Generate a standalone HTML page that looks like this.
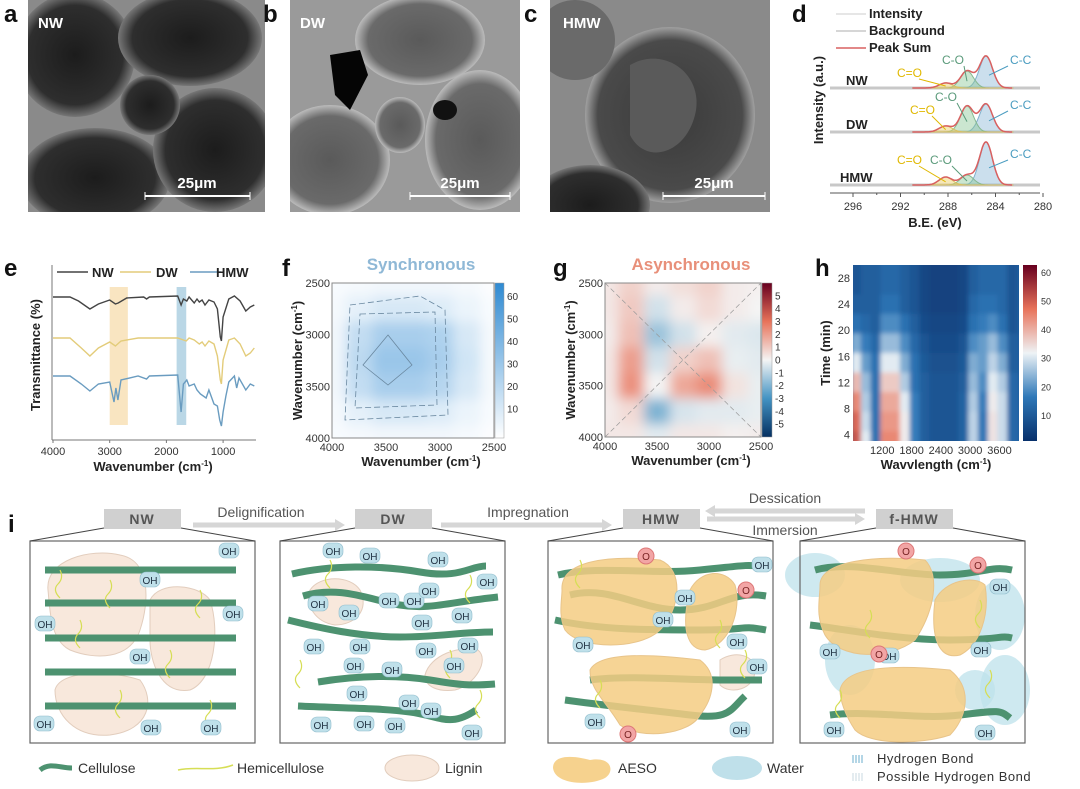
<!DOCTYPE html>
<html><head><meta charset="utf-8"><style>
html,body{margin:0;padding:0;background:#fff;}
svg{display:block;font-family:"Liberation Sans",Arial,sans-serif;}
.pl{font-weight:bold;font-size:24px;fill:#111;}
.tk{font-size:11px;fill:#333;}
.ax{font-size:13px;font-weight:bold;fill:#222;}
</style></head><body>
<svg id="s" width="1080" height="789" viewBox="0 0 1080 789" xmlns="http://www.w3.org/2000/svg">
<defs>
<filter id="bl4" x="-20%" y="-20%" width="140%" height="140%"><feGaussianBlur stdDeviation="6"/></filter>
<filter id="bl2"><feGaussianBlur stdDeviation="2.5"/></filter>
<clipPath id="cf"><rect x="332" y="283" width="162" height="155"/></clipPath>
<clipPath id="cg"><rect x="605" y="283" width="156" height="154"/></clipPath>
<clipPath id="ch"><rect x="853" y="265" width="166" height="176"/></clipPath>
<clipPath id="ca"><rect x="28" y="0" width="237" height="212"/></clipPath>
<clipPath id="cb"><rect x="290" y="0" width="230" height="212"/></clipPath>
<clipPath id="cc"><rect x="550" y="0" width="220" height="212"/></clipPath>
<radialGradient id="cell" cx="50%" cy="50%" r="50%"><stop offset="0" stop-color="#1c1c1c"/><stop offset="0.8" stop-color="#2e2e2e"/><stop offset="1" stop-color="#777"/></radialGradient>
<radialGradient id="cell2" cx="50%" cy="50%" r="50%"><stop offset="0" stop-color="#5a5a5a"/><stop offset="0.8" stop-color="#6a6a6a"/><stop offset="1" stop-color="#bbb"/></radialGradient>
<radialGradient id="cell3" cx="50%" cy="50%" r="50%"><stop offset="0" stop-color="#3a3a3a"/><stop offset="0.85" stop-color="#4a4a4a"/><stop offset="1" stop-color="#a0a0a0"/></radialGradient>
<linearGradient id="gf" x1="0" y1="1" x2="0" y2="0"><stop offset="0" stop-color="#ffffff"/><stop offset="1" stop-color="#2f8ad2"/></linearGradient>
<linearGradient id="gg" x1="0" y1="1" x2="0" y2="0"><stop offset="0" stop-color="#053061"/><stop offset="0.25" stop-color="#4393c3"/><stop offset="0.5" stop-color="#f4f4f4"/><stop offset="0.75" stop-color="#e8735a"/><stop offset="1" stop-color="#67001f"/></linearGradient>
<linearGradient id="gh" x1="0" y1="1" x2="0" y2="0"><stop offset="0" stop-color="#08306b"/><stop offset="0.25" stop-color="#2f78b8"/><stop offset="0.5" stop-color="#eef3f6"/><stop offset="0.75" stop-color="#e8735a"/><stop offset="1" stop-color="#67001f"/></linearGradient>
</defs>

<!-- SEM panels -->
<g clip-path="url(#ca)">
<rect x="28" y="0" width="237" height="212" fill="#8a8a8a"/>
<ellipse cx="75" cy="55" rx="60" ry="62" fill="url(#cell)"/>
<ellipse cx="190" cy="38" rx="72" ry="48" fill="url(#cell)"/>
<ellipse cx="95" cy="178" rx="75" ry="50" fill="url(#cell)"/>
<ellipse cx="215" cy="150" rx="62" ry="62" fill="url(#cell)"/>
<ellipse cx="150" cy="105" rx="30" ry="30" fill="url(#cell)"/>
</g>
<g clip-path="url(#cb)">
<rect x="290" y="0" width="230" height="212" fill="#9a9a9a"/>
<ellipse cx="330" cy="160" rx="60" ry="55" fill="url(#cell2)"/>
<ellipse cx="420" cy="40" rx="65" ry="45" fill="url(#cell2)"/>
<ellipse cx="480" cy="140" rx="55" ry="70" fill="url(#cell2)"/>
<ellipse cx="400" cy="125" rx="25" ry="28" fill="url(#cell2)"/>
<polygon points="330,55 360,50 368,75 350,110 335,95" fill="#050505"/>
<ellipse cx="445" cy="110" rx="12" ry="10" fill="#111"/>
</g>
<g clip-path="url(#cc)">
<rect x="550" y="0" width="220" height="212" fill="#8a8a8a"/>
<ellipse cx="670" cy="115" rx="85" ry="88" fill="url(#cell3)"/>
<ellipse cx="590" cy="205" rx="60" ry="40" fill="url(#cell)"/>
<ellipse cx="575" cy="40" rx="40" ry="40" fill="#6a6a6a"/>
<path d="M630,65 C665,45 705,75 695,115 C685,155 645,165 630,135 Z" fill="#5a5a5a"/>
</g>
<text class="pl" x="4" y="22">a</text>
<text class="pl" x="263" y="22">b</text>
<text class="pl" x="524" y="22">c</text>
<text class="pl" x="792" y="22">d</text>
<text x="38" y="28" font-size="15" font-weight="bold" fill="#fff">NW</text>
<text x="300" y="28" font-size="15" font-weight="bold" fill="#fff">DW</text>
<text x="563" y="28" font-size="15" font-weight="bold" fill="#fff">HMW</text>
<g fill="#fff" stroke="#fff"><line x1="145" y1="196" x2="250" y2="196" stroke-width="2"/><line x1="145" y1="192" x2="145" y2="200"/><line x1="250" y1="192" x2="250" y2="200"/><text x="197" y="188" stroke="none" font-size="15" font-weight="bold" text-anchor="middle">25μm</text></g>
<g fill="#fff" stroke="#fff"><line x1="410" y1="196" x2="510" y2="196" stroke-width="2"/><line x1="410" y1="192" x2="410" y2="200"/><line x1="510" y1="192" x2="510" y2="200"/><text x="460" y="188" stroke="none" font-size="15" font-weight="bold" text-anchor="middle">25μm</text></g>
<g fill="#fff" stroke="#fff"><line x1="663" y1="196" x2="765" y2="196" stroke-width="2"/><line x1="663" y1="192" x2="663" y2="200"/><line x1="765" y1="192" x2="765" y2="200"/><text x="714" y="188" stroke="none" font-size="15" font-weight="bold" text-anchor="middle">25μm</text></g>

<g id="xps"></g>
<g id="ftir"></g>
<g id="sync"></g>
<g id="async"></g>
<g id="heat"></g>
<text class="pl" x="4" y="276">e</text>
<text class="pl" x="282" y="276">f</text>
<text class="pl" x="553" y="276">g</text>
<text class="pl" x="815" y="276">h</text>

<g id="sch"></g>
<text class="pl" x="8" y="532">i</text>
</svg>
<script>
var NS="http://www.w3.org/2000/svg";
function mk(p,t,a,txt){var e=document.createElementNS(NS,t);for(var k in a)e.setAttribute(k,a[k]);if(txt!==undefined)e.textContent=txt;p.appendChild(e);return e;}

/* ---------- XPS data ---------- */
var xpsSamples=["NW","DW","HMW"];
var xpsPeakPos=[284.8,286.4,288.2];
var xpsPeakNames=["C-C","C-O","C=O"];
var xpsHeightsNW=[32,17,5];
var xpsHeightsDW=[28,26,6];
var xpsHeightsHMW=[43,10,8];
var xpsTicks=[296,292,288,284,280];
/* ---------- FTIR data: [wavenumber, absorption depth] ---------- */
var ftirNW=[[4000,0],[3700,0],[3550,4],[3350,12],[3200,7],[3000,3],[2900,7],[2850,6],[2700,1],[2400,0],[2350,2],[2300,0],[1800,-1],[1740,8],[1700,2],[1640,4],[1600,0],[1510,6],[1460,2],[1420,5],[1370,3],[1320,8],[1250,3],[1160,5],[1100,12],[1050,40],[1030,44],[1000,20],[900,2],[800,-1],[700,4],[600,14],[520,10],[450,8]];
var ftirDW=[[4000,0],[3700,0],[3500,10],[3350,18],[3200,10],[3000,4],[2900,8],[2800,3],[2500,0],[1800,0],[1650,3],[1600,0],[1510,2],[1420,6],[1370,4],[1320,8],[1250,3],[1160,6],[1100,18],[1050,42],[1030,46],[1000,22],[900,2],[800,0],[700,6],[600,18],[520,15],[450,10]];
var ftirHMW=[[4000,0],[3700,0],[3500,8],[3350,15],[3200,8],[3000,6],[2925,26],[2890,12],[2855,24],[2800,4],[2500,0],[2350,3],[2300,0],[1800,-1],[1740,36],[1700,8],[1640,4],[1600,10],[1510,8],[1460,14],[1400,18],[1300,22],[1250,14],[1160,28],[1100,30],[1060,44],[1030,50],[1000,36],[950,20],[900,6],[800,0],[760,12],[720,2],[600,14],[520,8],[450,10]];
var ftirTicks=[4000,3000,2000,1000];
/* ---------- 2D correlation data ---------- */
var corrAxis=[4000,3750,3500,3250,3000,2750,2500];
var corrRows=[2500,2750,3000,3250,3500,3750,4000];
var syncVals=[[2,3,4,4,4,3,1],[3,8,12,12,10,6,2],[4,18,26,26,24,12,3],[4,20,30,30,26,14,3],[4,18,26,26,22,12,3],[3,8,12,12,10,6,2],[2,3,4,4,4,3,1]];
var asyncVals=[[0.3,0.8,0.2,0.5,0.8,0.2,0.1],[0.3,1.0,-0.6,0.2,0.6,0.2,0],[0.2,1.2,-1.5,-0.6,0.1,-0.3,-0.4],[0.3,2.0,-0.6,0.8,1.2,-0.2,-0.3],[0.3,2.3,0,1.8,2.4,0.4,-0.2],[0.2,0.6,-2.0,-0.5,-0.3,-0.3,-0.2],[0.3,0.3,-0.3,0.3,0.3,0.1,0.2]];
var corrTicks=[4000,3500,3000,2500];
var syncBarTicks=[10,20,30,40,50,60];
var asyncBarTicks=[5,4,3,2,1,0,-1,-2,-3,-4,-5];
/* ---------- time heatmap ---------- */
var heatWn=[600,800,1000,1200,1400,1600,1800,2000,2200,2400,2600,2800,3000,3200,3400,3600,3800];
var heatTimes=[30,27,24,21,18,15,12,9,6,3];
var heatVals=[
[8,10,10,12,12,10,8,5,4,4,4,5,10,12,12,12,8],
[8,10,10,12,12,10,8,5,4,4,4,5,10,12,12,12,8],
[10,10,10,14,14,10,8,5,4,4,4,5,12,14,14,12,8],
[14,12,10,18,18,14,10,6,5,5,5,6,14,16,18,14,8],
[22,16,12,24,24,18,12,8,6,6,6,8,18,20,24,18,10],
[30,20,14,30,30,22,14,9,7,7,7,9,22,20,27,22,10],
[38,24,14,36,36,26,14,10,8,8,8,10,24,18,30,26,12],
[44,26,14,40,40,30,16,10,8,8,8,11,26,16,32,28,12],
[48,28,14,42,42,32,16,10,8,8,8,11,27,15,33,28,12],
[50,30,14,44,44,32,16,10,8,8,8,11,27,15,33,28,12]];
var heatXTicks=[1200,1800,2400,3000,3600];
var heatYTicks=[28,24,20,16,12,8,4];
var heatBarTicks=[10,20,30,40,50,60];

function lerpC(stops,t){t=Math.max(0,Math.min(1,t));for(var i=1;i<stops.length;i++){if(t<=stops[i][0]){var a=stops[i-1],b=stops[i],f=(t-a[0])/(b[0]-a[0]);var c=[0,1,2].map(function(k){return Math.round(a[1][k]+(b[1][k]-a[1][k])*f);});return "rgb("+c.join(",")+")";}}return "rgb("+stops[stops.length-1][1].join(",")+")";}
var rdbu=[[0,[5,48,97]],[0.25,[67,147,195]],[0.5,[244,244,244]],[0.75,[232,115,90]],[1,[103,0,31]]];
var rdbuH=[[0,[8,48,107]],[0.25,[47,120,184]],[0.5,[238,243,246]],[0.75,[232,115,90]],[1,[103,0,31]]];
var blues=[[0,[255,255,255]],[1,[47,138,210]]];

/* ---------- XPS draw ---------- */
(function(){
var g=document.getElementById("xps");
function xs(e){return 853+(296-e)*11.875;}
var base=[88,132,185];var heights=[xpsHeightsNW,xpsHeightsDW,xpsHeightsHMW];
var compCol=["rgba(140,185,215,0.45)","rgba(140,200,150,0.45)","rgba(235,205,100,0.45)"];
var compStroke=["#7fb0cc","#86b890","#d9c060"];
var labCol=["#4a9cc0","#5a9a7a","#e0b800"];
// label anchor positions [sample][peak] -> [x,y]
var labPos=[[[1010,64],[942,64],[897,77]],[[1010,109],[935,101],[910,114]],[[1010,158],[930,164],[897,164]]];
var sig=0.55;
for(var s=0;s<3;s++){
  var b=base[s];
  var bgl=mk(g,"line",{x1:830,y1:b,x2:1040,y2:b,stroke:"#c8c8c8","stroke-width":3});
  
  
  for(var p=0;p<3;p++){
    var d="M";for(var e=291;e>=282.5;e-=0.1){var v=heights[s][p]*Math.exp(-Math.pow((e-xpsPeakPos[p])/sig,2)/2);d+=xs(e).toFixed(1)+","+(b-v).toFixed(1)+" L";}
    d=d.slice(0,-2);
    var pe=mk(g,"path",{d:d+" L"+xs(282.5)+","+b+" L"+xs(291)+","+b+"Z",fill:compCol[p],stroke:compStroke[p],"stroke-width":1});
    
    
  }
  var d2="M";for(var e=291;e>=282.5;e-=0.1){var v=0;for(var p=0;p<3;p++)v+=heights[s][p]*Math.exp(-Math.pow((e-xpsPeakPos[p])/sig,2)/2);d2+=xs(e).toFixed(1)+","+(b-v).toFixed(1)+" L";}
  var ps=mk(g,"path",{d:d2.slice(0,-2),fill:"none",stroke:"#d86060","stroke-width":1.5});
  
  
  var sl=mk(g,"text",{x:xpsSamples[s]=="HMW"?840:846,y:b-3,"font-size":13,"font-weight":"bold",fill:"#222"},xpsSamples[s]);
  
  
  for(var p=0;p<3;p++){
    var px=xs(xpsPeakPos[p]),py=b-heights[s][p]*0.4;
    var lp=labPos[s][p];
    var lx2=p==0?lp[0]-2:lp[0]+22, ly2=lp[1]+2;
    mk(g,"line",{x1:px+(p==0?3:0),y1:py,x2:lx2,y2:ly2,stroke:labCol[p],"stroke-width":1});
    var tl=mk(g,"text",{x:lp[0],y:lp[1],"font-size":12,fill:labCol[p]},xpsPeakNames[p]);
    
    
  }
}
mk(g,"line",{x1:830,y1:193,x2:1040,y2:193,stroke:"#555"});
xpsTicks.forEach(function(t){var x=xs(t);mk(g,"line",{x1:x,y1:193,x2:x,y2:197,stroke:"#555"});
  var tt=mk(g,"text",{x:x,y:210,"text-anchor":"middle",class:"tk"},t);
  
  });
[294,290,286,282].forEach(function(t){mk(g,"line",{x1:xs(t),y1:193,x2:xs(t),y2:195,stroke:"#555"});});
var xt=mk(g,"text",{x:935,y:227,"text-anchor":"middle",class:"ax"},"B.E. (eV)");


var yt=mk(g,"text",{x:0,y:0,"text-anchor":"middle",class:"ax",transform:"translate(823,100) rotate(-90)"},"Intensity (a.u.)");


var leg=[["Intensity","#ddd"],["Background","#c8c8c8"],["Peak Sum","#d86060"]];
leg.forEach(function(l,i){var y=18+i*17;mk(g,"line",{x1:836,y1:y-4,x2:866,y2:y-4,stroke:l[1],"stroke-width":1.5});
 var lt=mk(g,"text",{x:869,y:y,"font-size":13,"font-weight":"bold",fill:"#222"},l[0]);
 
 });
})();

/* ---------- FTIR draw ---------- */
(function(){
var g=document.getElementById("ftir");
function xs(w){return 53+(4000-w)*0.0567;}
var hl1=mk(g,"rect",{x:xs(3000),y:287,width:xs(2680)-xs(3000),height:138,fill:"#f7dfb2",opacity:0.8});


var hl2=mk(g,"rect",{x:xs(1820),y:287,width:xs(1650)-xs(1820),height:138,fill:"#a9cde0",opacity:0.8});


var series=[[ftirNW,297,"#444","NW"],[ftirDW,338,"#e3cc7a","DW"],[ftirHMW,376,"#6a9cc0","HMW"]];
series.forEach(function(s){
  var d=s[0].map(function(p,i){return (i?"L":"M")+xs(p[0]).toFixed(1)+","+(s[1]+p[1]).toFixed(1);}).join(" ");
  var pth=mk(g,"path",{d:d,fill:"none",stroke:s[2],"stroke-width":1.4});
  
  
});
mk(g,"line",{x1:52,y1:265,x2:52,y2:440,stroke:"#777"});
mk(g,"line",{x1:52,y1:440,x2:256,y2:440,stroke:"#777"});
ftirTicks.forEach(function(t){mk(g,"line",{x1:xs(t),y1:440,x2:xs(t),y2:443,stroke:"#777"});
 var tt=mk(g,"text",{x:xs(t),y:455,"text-anchor":"middle",class:"tk"},t);
 
 });
var xt=mk(g,"text",{x:153,y:471,"text-anchor":"middle",class:"ax"});xt.innerHTML='Wavenumber (cm<tspan dy="-5" font-size="8">-1</tspan><tspan dy="5">)</tspan>';


var yt=mk(g,"text",{x:0,y:0,"text-anchor":"middle",class:"ax",transform:"translate(40,355) rotate(-90)"},"Transmittance (%)");


[["NW","#444",57,92],["DW","#e3cc7a",120,156],["HMW","#6a9cc0",190,216]].forEach(function(l){
 mk(g,"line",{x1:l[2],y1:272,x2:l[2]+31,y2:272,stroke:l[1],"stroke-width":1.5});
 var lt=mk(g,"text",{x:l[3],y:277,"font-size":13,"font-weight":"bold",fill:"#222"},l[0]);
 
 });
})();

/* ---------- correlation maps ---------- */
function corrMap(id,vals,x0,y0,w,h,col,vmin,vmax,clip,bar,barTicks,title,tcol,cbGrad){
 var g=document.getElementById(id);
 mk(g,"rect",{x:x0,y:y0,width:w,height:h,fill:col(0)});
 var gi=mk(g,"g",{"clip-path":"url(#"+clip+")"});var gb=mk(gi,"g",{filter:"url(#bl4)"});
 function xs(wn){return x0+(4000-wn)/1500*w;} function ys(wn){return y0+(wn-2500)/1500*h;}
 var cw=w/6,ch=h/6;
 corrRows.forEach(function(r,i){corrAxis.forEach(function(c,j){
   var cell=mk(gb,"rect",{x:xs(c)-cw/2,y:ys(r)-ch/2,width:cw+1,height:ch+1,fill:col(vals[i][j])});
   
   
 });});
 mk(g,"rect",{x:x0,y:y0,width:w,height:h,fill:"none",stroke:"#888"});
 corrTicks.forEach(function(t){
   var tx=mk(g,"text",{x:xs(t),y:y0+h+13,"text-anchor":"middle",class:"tk"},t);
   
   
   var ty=mk(g,"text",{x:x0-2,y:ys(t)+4,"text-anchor":"end",class:"tk"},t);
   
   
 });
 var xt=mk(g,"text",{x:x0+w/2+8,y:y0+h+28,"text-anchor":"middle",class:"ax"});xt.innerHTML='Wavenumber (cm<tspan dy="-5" font-size="8">-1</tspan><tspan dy="5">)</tspan>';
 
 
 var yt=mk(g,"text",{x:0,y:0,"text-anchor":"middle",class:"ax",transform:"translate("+(x0-30)+","+(y0+h/2)+") rotate(-90)"});yt.innerHTML='Wavenumber (cm<tspan dy="-5" font-size="8">-1</tspan><tspan dy="5">)</tspan>';
 
 
 var cb=mk(g,"rect",{x:bar[0],y:y0,width:bar[1],height:h,fill:"url(#"+cbGrad+")",stroke:"#999","stroke-width":0.5});
 
 
 barTicks.forEach(function(t){var y=y0+h-(t-vmin)/(vmax-vmin)*h;
   var bt=mk(g,"text",{x:bar[0]+bar[1]+3,y:y+3.5,"font-size":10,fill:"#333"},t);
   
   });
 var tt=mk(g,"text",{x:x0+w/2+8,y:270,"text-anchor":"middle","font-size":17,"font-weight":"bold",fill:tcol},title);
 
 
 return {g:g,xs:xs,ys:ys};
}
var F=corrMap("sync",syncVals,332,283,162,155,function(v){return lerpC(blues,v/62);},-3,66,"cf",[495,9],syncBarTicks,"Synchronous","#8fb8d6","gf");
mk(F.g,"path",{d:"M350,305 L420,296 L445,310 L448,415 L345,420 Z",fill:"none",stroke:"#6a88a0","stroke-dasharray":"6,3","stroke-width":0.8});
mk(F.g,"path",{d:"M360,314 L435,312 L437,405 L355,408 Z",fill:"none",stroke:"#6a88a0","stroke-dasharray":"6,3","stroke-width":0.8});
mk(F.g,"path",{d:"M388,335 L412,365 L388,385 L363,365 Z",fill:"none",stroke:"#6a88a0","stroke-width":0.8});
var G=corrMap("async",asyncVals,605,283,156,154,function(v){return lerpC(rdbu,(v+6)/12);},-6,6,"cg",[762,10],asyncBarTicks,"Asynchronous","#e8907a","gg");
mk(G.g,"path",{d:"M605,437 L761,283 M605,283 L761,437",fill:"none",stroke:"#999","stroke-dasharray":"5,3","stroke-width":0.7,"clip-path":"url(#cg)"});
(function(){
 var g=document.getElementById("heat");var x0=853,y0=265,w=166,h=176;
 function xs(wn){return x0+(wn-600)/3400*w;} function ys(t){return y0+(30-t)/27*h;}
 mk(g,"rect",{x:x0,y:y0,width:w,height:h,fill:"#1d5ea3"});
 var gi=mk(g,"g",{"clip-path":"url(#ch)"});var gb=mk(gi,"g",{filter:"url(#bl2)"});
 var cw=w/17,ch=h/9;
 heatTimes.forEach(function(t,i){heatWn.forEach(function(wn,j){
  var cell=mk(gb,"rect",{x:xs(wn)-cw*0.2,y:ys(t)-ch/2,width:cw+1,height:ch+1,fill:lerpC(rdbuH,heatVals[i][j]/62)});
  
  
 });});
 heatXTicks.forEach(function(t){var tx=mk(g,"text",{x:xs(t),y:y0+h+13,"text-anchor":"middle",class:"tk"},t);
  
  });
 heatYTicks.forEach(function(t){var ty=mk(g,"text",{x:x0-3,y:ys(t)+4,"text-anchor":"end",class:"tk"},t);
  
  });
 var xt=mk(g,"text",{x:x0+w/2,y:y0+h+28,"text-anchor":"middle",class:"ax"});xt.innerHTML='Wavvlength (cm<tspan dy="-5" font-size="8">-1</tspan><tspan dy="5">)</tspan>';
 
 
 var yt=mk(g,"text",{x:0,y:0,"text-anchor":"middle",class:"ax",transform:"translate(830,353) rotate(-90)"},"Time (min)");
 
 
 var cb=mk(g,"rect",{x:1023,y:y0,width:14,height:h,fill:"url(#gh)"});
 
 
 heatBarTicks.forEach(function(t){var y=444-t*2.86;var bt=mk(g,"text",{x:1041,y:y+3.5,"font-size":9,fill:"#333"},t);
  
  });
})();

/* ---------- schematic ---------- */
(function(){
var g=document.getElementById("sch");
function el(t,a,name,txt){var e=mk(g,t,a,txt);return e;}
var boxes=[[30,"NW",104],[280,"DW",355],[548,"HMW",623],[800,"f-HMW",876]];
var lig="#f8e8dc",ligS="#e2cdbd",aeso="rgba(245,205,130,0.85)",wat="rgba(190,225,235,0.75)";
el("path",{d:"M48,590 C45,560 90,548 120,555 C150,560 150,600 140,630 C130,660 95,660 70,650 C50,640 50,610 48,590Z",fill:lig,stroke:ligS},"lignin-blob");
el("path",{d:"M150,600 C160,580 200,585 210,600 C220,630 215,680 190,690 C160,695 150,660 150,640Z",fill:lig,stroke:ligS},"lignin-blob");
el("path",{d:"M55,690 C60,670 110,670 140,680 C155,700 150,730 110,735 C75,738 55,715 55,690Z",fill:lig,stroke:ligS},"lignin-blob");
el("path",{d:"M310,590 C320,575 350,575 360,590 C370,610 355,625 335,625 C315,622 305,605 310,590Z",fill:lig,stroke:ligS},"lignin-blob");
el("path",{d:"M425,675 C430,655 460,645 478,650 C490,660 475,685 455,690 C440,692 425,688 425,675Z",fill:lig,stroke:ligS},"lignin-blob");
el("path",{d:"M720,660 C735,650 755,655 755,670 C755,690 730,695 720,685Z",fill:lig,stroke:ligS},"lignin-blob");
[[815,575,30,22],[850,660,25,35],[1000,615,25,35],[1005,690,25,35],[975,690,20,20],[940,580,40,22]].forEach(function(w){el("ellipse",{cx:w[0],cy:w[1],rx:w[2],ry:w[3],fill:wat},"water-blob");});
var cel="#4d9270";
[570,603,638,672,706].forEach(function(y){el("rect",{x:45,y:y-3.5,width:191,height:7,fill:cel},"cellulose-fiber");});
["M292,574 C330,565 380,565 420,572 S470,566 486,566","M303,596 C340,585 370,600 400,605 S450,602 498,597","M288,620 C320,628 360,637 400,637 S460,632 493,632","M318,682 C360,675 400,675 430,680 S470,686 495,684","M298,706 C340,708 380,708 410,712 S450,728 476,710",
 "M558,575 C600,565 650,575 700,570 S740,565 766,566","M570,595 C610,585 640,610 680,610 S730,590 766,596","M555,620 C600,630 650,630 700,630 S740,625 766,630","M590,680 C630,675 680,680 720,680 S750,680 762,680","M565,700 C600,705 650,710 690,715 S730,710 745,696",
 "M815,570 C850,560 900,575 940,575 S990,565 1012,570","M810,625 C850,630 900,640 950,640 S1000,635 1012,638","M830,715 C870,710 920,720 960,715 S1000,710 1010,718"].forEach(function(d){el("path",{d:d,fill:"none",stroke:cel,"stroke-width":7},"cellulose-fiber");});
["M562,590 C560,560 610,555 660,560 C685,570 680,610 660,630 C640,650 580,650 565,630 C558,615 562,600 562,590Z","M690,590 C700,570 725,568 735,585 C742,610 730,645 705,650 C688,650 680,630 690,590Z","M590,670 C600,650 660,655 700,660 C720,675 712,700 700,715 C690,735 640,740 620,725 C605,700 590,690 590,670Z",
 "M820,585 C820,560 880,555 925,560 C940,575 935,610 915,640 C890,660 840,660 825,635 C815,615 820,600 820,585Z","M935,600 C945,580 975,575 985,585 C990,615 980,645 960,655 C940,660 930,640 935,600Z","M840,690 C845,665 900,665 950,670 C975,690 965,720 950,735 C920,745 870,745 855,730 C845,715 840,700 840,690Z"].forEach(function(d){el("path",{d:d,fill:aeso,stroke:"#e8c48a"},"aeso-blob");});
[[60,570],[110,580],[200,590],[80,620],[170,650],[120,690],[210,700],[330,560],[470,575],[300,660],[450,650],[480,690],[580,560],[720,620],[745,650],[600,680],[870,610],[980,600],[840,690],[990,670]].forEach(function(p){
 el("path",{d:"M"+p[0]+","+p[1]+" q4,8 -2,14 t2,14",fill:"none",stroke:"#d6de55","stroke-width":1.2},"hemicellulose-strand");});
boxes.forEach(function(b){
 el("rect",{x:b[0],y:541,width:225,height:202,fill:"none",stroke:"#666","stroke-width":1.2},"box-"+b[1].toLowerCase());
 el("path",{d:"M"+b[0]+",541 L"+b[2]+",528 M"+(b[2]+77)+",528 L"+(b[0]+225)+",541",stroke:"#444",fill:"none"},"tab-connector");
 el("rect",{x:b[2],y:509,width:77,height:20,fill:"#d0d0d0"},"tab-"+b[1].toLowerCase());
 el("text",{x:b[2]+38,y:524,"text-anchor":"middle","font-size":14,"font-weight":"bold",fill:"#555","letter-spacing":"1"},"tab-label",b[1]);
});
function arrow(x1,x2,y,name){var dir=x2>x1?1:-1;el("path",{d:"M"+x1+","+(y-2.5)+" L"+(x2-dir*10)+","+(y-2.5)+" L"+(x2-dir*10)+","+(y-6)+" L"+x2+","+y+" L"+(x2-dir*10)+","+(y+6)+" L"+(x2-dir*10)+","+(y+2.5)+" L"+x1+","+(y+2.5)+"Z",fill:"#d6d6d6"},name);}
arrow(193,345,525,"arrow-delignification");arrow(441,612,525,"arrow-impregnation");arrow(865,705,511,"arrow-dessication");arrow(707,865,519,"arrow-immersion");
el("text",{x:261,y:517,"text-anchor":"middle","font-size":14,fill:"#555"},"label-delignification","Delignification");
el("text",{x:528,y:517,"text-anchor":"middle","font-size":14,fill:"#555"},"label-impregnation","Impregnation");
el("text",{x:785,y:503,"text-anchor":"middle","font-size":14,fill:"#555"},"label-dessication","Dessication");
el("text",{x:785,y:535,"text-anchor":"middle","font-size":14,fill:"#555"},"label-immersion","Immersion");
[[229,551],[150,580],[233,614],[45,624],[140,657],[44,724],[151,728],[211,728],
 [333,551],[370,556],[438,560],[487,582],[318,604],[349,613],[389,601],[414,601],[429,591],[422,623],[462,616],[314,647],[360,647],[426,651],[468,646],[354,666],[392,670],[454,666],[357,694],[409,703],[431,711],[321,725],[364,724],[395,726],[472,733],
 [685,598],[663,620],[583,645],[737,642],[757,667],[762,565],[595,722],[740,730],
 [1000,587],[830,652],[889,656],[981,650],[834,730],[985,733]].forEach(function(p){
 el("rect",{x:p[0]-10,y:p[1]-8,width:20,height:15,rx:6,fill:"#bfe0ea",stroke:"#8fbccc","stroke-width":0.6},"oh-bubble");
 el("text",{x:p[0],y:p[1]+4,"text-anchor":"middle","font-size":10,fill:"#234"},"oh-label","OH");});
[[646,556],[746,590],[628,734],[906,551],[978,565],[879,654]].forEach(function(p){
 el("circle",{cx:p[0],cy:p[1],r:8,fill:"#f2a5a5",stroke:"#d77"},"o-group");
 el("text",{x:p[0],y:p[1]+4,"text-anchor":"middle","font-size":10,fill:"#722"},"o-label","O");});
el("path",{d:"M40,770 C50,762 60,768 72,768",fill:"none",stroke:cel,"stroke-width":5},"legend-cellulose-swatch");
el("text",{x:78,y:773,"font-size":14,fill:"#333"},"legend-cellulose","Cellulose");
el("path",{d:"M178,770 C195,766 215,772 233,765",fill:"none",stroke:"#d6de55","stroke-width":1.5},"legend-hemicellulose-swatch");
el("text",{x:237,y:773,"font-size":14,fill:"#333"},"legend-hemicellulose","Hemicellulose");
el("ellipse",{cx:412,cy:768,rx:27,ry:13,fill:lig,stroke:ligS},"legend-lignin-swatch");
el("text",{x:445,y:773,"font-size":14,fill:"#333"},"legend-lignin","Lignin");
el("path",{d:"M553,768 C553,752 580,757 590,760 C612,756 615,772 605,778 C590,786 555,785 553,768Z",fill:"rgba(245,205,130,0.9)"},"legend-aeso-swatch");
el("text",{x:618,y:773,"font-size":14,fill:"#333"},"legend-aeso","AESO");
el("ellipse",{cx:737,cy:768,rx:25,ry:12,fill:"#bfe0ea"},"legend-water-swatch");
el("text",{x:767,y:773,"font-size":14,fill:"#333"},"legend-water","Water");
el("path",{d:"M853,755 v8 M856,755 v8 M859,755 v8 M862,755 v8",stroke:"#6aaccc"},"legend-hbond-swatch");
el("path",{d:"M853,773 v8 M856,773 v8 M859,773 v8 M862,773 v8",stroke:"#c8d8e0"},"legend-possible-hbond-swatch");
el("text",{x:877,y:763,"font-size":13,fill:"#333","letter-spacing":"0.5"},"legend-hydrogen-bond","Hydrogen Bond");
el("text",{x:877,y:781,"font-size":13,fill:"#333","letter-spacing":"0.5"},"legend-possible-hydrogen-bond","Possible Hydrogen Bond");
})();
</script>
</body></html>
